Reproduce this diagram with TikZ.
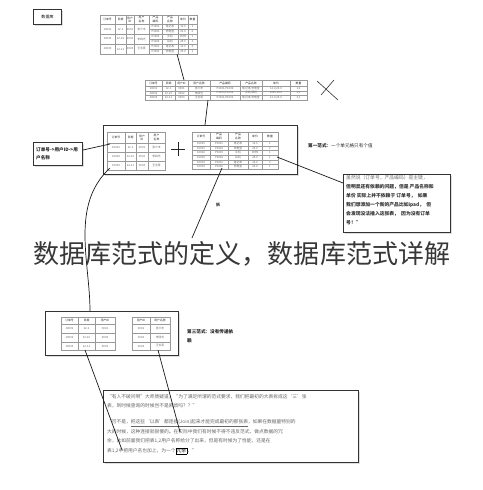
\documentclass[tikz,border=0pt]{standalone}
\usepackage{fontspec}
\setmainfont{Noto Sans CJK SC}
\usetikzlibrary{shadows}
\tikzset{
  cell/.style={inner sep=0pt, font=\fontsize{2.8}{3.2}\selectfont, text=black!60, align=center},
  hcell/.style={cell, text=black!85},
  tgrid/.style={draw=black!40, line width=0.3pt},
  frame/.style={draw=black!80, line width=1pt, fill=white, drop shadow={opacity=0.25, shadow xshift=1pt, shadow yshift=-1pt}},
  conn/.style={draw=black!90, line width=0.7pt},
  note/.style={inner sep=0pt, anchor=west, font=\fontsize{4.6}{5}\selectfont, text=black!85},
  para/.style={inner sep=0pt, anchor=west, font=\fontsize{4.75}{6}\selectfont, text=black!60},
}
\newcommand\tabh[3]{\node[hcell] at (#1,#2) {#3};}
\newcommand\tabd[3]{\node[cell] at (#1,#2) {#3};}
\begin{document}
\begin{tikzpicture}[x=1pt,y=-1pt]
\useasboundingbox (0,0) rectangle (482,490);
\fill[white] (0,0) rectangle (482,490);

% ---------- boxes ----------
\node[frame, inner sep=0pt, minimum width=28pt, minimum height=15pt, anchor=north west,
      font=\fontsize{4}{4}\selectfont] (db) at (33,9) {数据库};
\node[frame, inner sep=0pt, minimum width=194pt, minimum height=49pt, anchor=north west] (big) at (103,125) {};
\node[frame, inner sep=0pt, minimum width=49pt, minimum height=23pt, anchor=north west] (dep) at (33,142) {};
\node[frame, inner sep=0pt, minimum width=107pt, minimum height=58pt, anchor=north west] (call) at (343,174) {};
\node[frame, inner sep=0pt, minimum width=133pt, minimum height=44pt, anchor=north west] (third) at (45,311) {};
\node[frame, inner sep=0pt, minimum width=255pt, minimum height=72pt, anchor=north west] (bottom) at (103,390) {};

% ---------- top table ----------
\draw[tgrid] (100,15) rectangle (197,54);
\foreach \x in {115,126,134,149,162,178,188} \draw[tgrid] (\x,15)--(\x,54);
\foreach \y in {24,34,44} \draw[tgrid] (100,\y)--(197,\y);
\foreach \y in {29,39,49} \draw[tgrid] (149,\y)--(197,\y);
\tabh{107.5}{19.5}{订单号}\tabh{120.5}{19.5}{日期}\tabh{130}{19.5}{用户\\ID}
\tabh{141.5}{19.5}{用户\\名称}\tabh{155.5}{19.5}{产品\\编码}\tabh{170}{19.5}{产品\\名称}
\tabh{183}{19.5}{单价}\tabh{192.5}{19.5}{数量}
\foreach \y/\a/\b/\c/\d in {29/10001/12-1/0001/张三丰,39/10002/12-10/0002/李四光,49/10003/12-11/0003/王五哥}
  {\tabd{107.5}{\y}{\a}\tabd{120.5}{\y}{\b}\tabd{130}{\y}{\c}\tabd{141.5}{\y}{\d}}
\foreach \y/\a/\b/\c/\d in {26.5/P1001/笔记本/12.0/1,31.5/P1002/充电宝/23.0/2,36.5/P1003/手机/1999/1,
                            41.5/P1004/耳机/25.0/1,46.5/P1001/笔记本/12.0/3,51.5/P1002/充电宝/23.0/1}
  {\tabd{155.5}{\y}{\a}\tabd{170}{\y}{\b}\tabd{183}{\y}{\c}\tabd{192.5}{\y}{\d}}
\coordinate (t1b) at (177,54);

% ---------- second table ----------
\draw[tgrid] (145,80) rectangle (307,100);
\foreach \x in {162,175,188,210,240,262,290} \draw[tgrid] (\x,80)--(\x,100);
\foreach \y in {86,90.67,95.33} \draw[tgrid] (145,\y)--(307,\y);
\tabh{153.5}{83}{订单号}\tabh{168.5}{83}{日期}\tabh{181.5}{83}{用户ID}\tabh{199}{83}{用户名称}
\tabh{225}{83}{产品编码}\tabh{251}{83}{产品名称}\tabh{276}{83}{单价}\tabh{298.5}{83}{数量}
\foreach \y/\a/\b/\c/\d/\e/\f/\g/\h in {
  88.3/10001/12-1/0001/张三丰/{P1001,P1002}/{笔记本,充电宝}/{12.0,23.0}/{1,2},
  93/10002/12-10/0002/李四光/{P1003,P1004}/{手机,耳机}/{1999,25.0}/{1,1},
  97.7/10003/12-11/0003/王五哥/{P1001,P1002}/{笔记本,充电宝}/{12.0,23.0}/{3,1}}
  {\tabd{153.5}{\y}{\a}\tabd{168.5}{\y}{\b}\tabd{181.5}{\y}{\c}\tabd{199}{\y}{\d}
   \tabd{225}{\y}{\e}\tabd{251}{\y}{\f}\tabd{276}{\y}{\g}\tabd{298.5}{\y}{\h}}
\coordinate (t2t) at (184,80);
\coordinate (t2b) at (208,100);

% cross
\draw[line width=0.6pt, black!80] (317,81)--(338,100) (334,80)--(321,95);

% ---------- big box content ----------
\draw[tgrid] (107,132) rectangle (165,170);
\foreach \x in {125,136,148} \draw[tgrid] (\x,132)--(\x,170);
\foreach \y in {143,152,161} \draw[tgrid] (107,\y)--(165,\y);
\tabh{116}{137.5}{订单号}\tabh{130.5}{137.5}{日期}\tabh{142}{137.5}{用户\\ID}\tabh{156.5}{137.5}{用户\\名称}
\foreach \y/\a/\b/\c/\d in {147.5/10001/12-1/0001/张三丰,156.5/10002/12-10/0002/李四光,165.5/10003/12-11/0003/王五哥}
  {\tabd{116}{\y}{\a}\tabd{130.5}{\y}{\b}\tabd{142}{\y}{\c}\tabd{156.5}{\y}{\d}}
\draw[line width=0.8pt, black!85] (171,149)--(185,149) (178,142)--(178,156);
\draw[tgrid] (192,132) rectangle (278,169);
\foreach \x in {210,228,248,262} \draw[tgrid] (\x,132)--(\x,169);
\foreach \y in {141,145.67,150.33,155,159.67,164.33} \draw[tgrid] (192,\y)--(278,\y);
\tabh{201}{136.5}{订单号}\tabh{219}{136.5}{产品\\编码}\tabh{238}{136.5}{产品\\名称}\tabh{255}{136.5}{单价}\tabh{270}{136.5}{数量}
\foreach \y/\o/\a/\b/\c/\d in {143.33/10001/P1001/笔记本/12.0/1,148/10001/P1002/充电宝/23.0/2,152.67/10002/P1003/手机/1999/1,
                               157.33/10002/P1004/耳机/25.0/1,162/10003/P1001/笔记本/12.0/3,166.67/10003/P1002/充电宝/23.0/1}
  {\tabd{201}{\y}{\o}\tabd{219}{\y}{\a}\tabd{238}{\y}{\b}\tabd{255}{\y}{\c}\tabd{270}{\y}{\d}}
\coordinate (lt1) at (110,144);
\coordinate (ltb) at (110,168);
\coordinate (rtb) at (222,168);
\coordinate (rtr) at (277,157);

% ---------- dependency note ----------
\node[note, font=\bfseries\fontsize{4.6}{8}\selectfont, align=left] (deptext) at (36,153.5)
  {订单号->用户ID->用\\户名称};

% ---------- first normal form ----------
\node[note] (nf1) at (308,146) {\textbf{第一范式：}一个单元格只有个值};
\node[note, font=\fontsize{4.8}{9}\selectfont, align=left, anchor=north west, text=black!80] (calltext) at (346,175.5)
  {{\color{black!55}虽然说（订单号，产品编码）是主键，}\\
   \textbf{但明显还有依赖的问题，但是 产品名称和}\\
   \textbf{单价 实际上并不依赖于 订单号，\ \ 如果}\\
   \textbf{我们想添加一个新的产品比如ipad，\ \ 但}\\
   \textbf{会发现没法插入这张表，\ \ 因为没有订单}\\
   \textbf{号！”}};

\node[inner sep=0pt, font=\bfseries\fontsize{4}{4}\selectfont, text=black!85] (split) at (218,205) {拆};

% ---------- third normal form box ----------
\draw[tgrid] (61,317) rectangle (115,350);
\foreach \x in {78,95} \draw[tgrid] (\x,317)--(\x,350);
\foreach \y in {324,333,342} \draw[tgrid] (61,\y)--(115,\y);
\tabh{69.5}{320.5}{订单号}\tabh{86.5}{320.5}{日期}\tabh{105}{320.5}{用户ID}
\foreach \y/\a/\b/\c in {328.5/10001/12-1/0001,337.5/10002/12-10/0002,346/10003/12-11/0003}
  {\tabd{69.5}{\y}{\a}\tabd{86.5}{\y}{\b}\tabd{105}{\y}{\c}}
\draw[tgrid] (132,317) rectangle (170,350);
\draw[tgrid] (150,317)--(150,350);
\foreach \y in {324,333,342} \draw[tgrid] (132,\y)--(170,\y);
\tabh{141}{320.5}{用户ID}\tabh{160}{320.5}{用户名称}
\foreach \y/\a/\b in {328.5/0001/张三丰,337.5/0002/李四光,346/0003/王五哥}
  {\tabd{141}{\y}{\a}\tabd{160}{\y}{\b}}
\coordinate (thtop) at (90,311);
\coordinate (tlb) at (85,350);
\coordinate (trb) at (158,350);
\node[note, font=\bfseries\fontsize{4.6}{9}\selectfont, align=left, anchor=north west] (nf3) at (187,329)
  {第三范式：没有传递依\\赖};

% ---------- bottom paragraph ----------
\setlength\fboxsep{0.6pt}
\node[para] (p1) at (107,397) {“有人不破问啊”大师质疑道，“为了满足所谓的范式要求，我们把最初的大表拆成这‘三’张};
\node[para] (p2) at (107,406) {表，到时候查询的时候岂不是麻烦吗？？”};
\node[para] (p3) at (107,423) {“可不是，\underline{把这些‘以表’都连接(Join)起来才能完成最初的那张表}，如果在数据量特别的};
\node[para] (p4) at (107,432) {大的时候，这种连接就很慢的。在实际中我们有时候不得不违反范式，做点数据的冗};
\node[para] (p5) at (107,441) {余，比如前面我们把表1,2用户名称给分了出来，但是有时候为了性能，还是在};
\node[para] (p6) at (107,451) {表1,2中把用户名也加上，为一个{\color{black}\fbox{冗余}}。”};
\coordinate (bl) at (122,450);
\coordinate (bm) at (180,432);

% ---------- connectors ----------
\draw[conn] (t1b) -- (t2t);
\draw[conn] (t2b) -- (big.north -| 205,0);
\draw[conn] (dep.east |- 0,150) -- (lt1);
\draw[conn] (ltb) .. controls (70,205) and (90,262) .. (thtop);
\coordinate (rte) at (192,238);
\draw[conn] (rtb) -- (rte);
\draw[conn] (rtr) -- (call.west |- 0,183);
\draw[conn] (tlb) -- (bl);
\draw[conn] (trb) -- (bm);

% ---------- overlay title ----------
\node[inner sep=0pt, font=\fontsize{26}{26}\selectfont, text=black!78] (title) at (242,254)
  {数据库范式的定义，数据库范式详解};
\end{tikzpicture}
\end{document}
